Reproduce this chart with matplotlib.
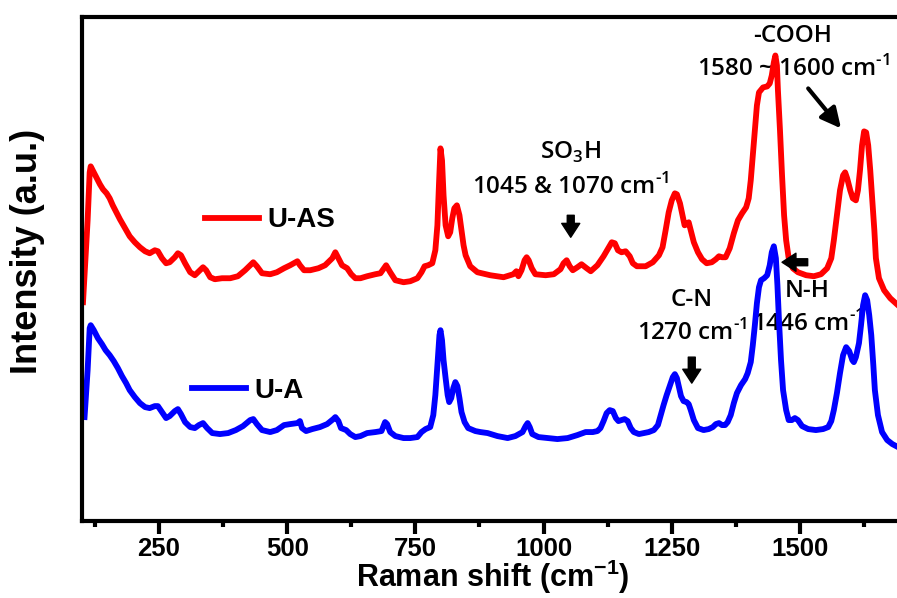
import numpy as np
import matplotlib.pyplot as plt
from matplotlib.lines import Line2D

plt.rcParams['font.family'] = ['Liberation Sans', 'DejaVu Sans']
plt.rcParams['mathtext.fontset'] = 'custom'
plt.rcParams['mathtext.rm'] = 'Open Sans:semibold'
plt.rcParams['mathtext.bf'] = 'Liberation Sans:bold'
plt.rcParams['mathtext.fallback'] = 'stixsans'

# Espectros Raman (desplazamiento en cm-1, intensidad en u.a.)
x_uas = [102, 111, 115, 117, 121, 129, 135, 141, 148, 154, 160, 168, 174, 184, 193,
         203, 213, 223, 232, 242, 248, 256, 264, 271, 281, 287, 293, 301, 311, 320,
         328, 336, 342, 350, 359, 373, 389, 404, 418, 428, 434, 441, 451, 467, 480,
         494, 506, 520, 525, 533, 545, 561, 574, 588, 594, 600, 607, 617, 625, 633,
         643, 656, 672, 682, 693, 701, 711, 727, 740, 754, 762, 768, 775, 783, 789,
         793, 796, 799, 802, 805, 809, 814, 818, 822, 826, 831, 836, 840, 844, 848,
         857, 871, 896, 922, 941, 947, 951, 957, 963, 967, 971, 977, 984, 1004, 1020,
         1033, 1039, 1045, 1051, 1057, 1066, 1074, 1084, 1092, 1105, 1117, 1125, 1133,
         1139, 1145, 1152, 1160, 1168, 1174, 1182, 1189, 1199, 1213, 1225, 1232, 1238,
         1244, 1250, 1256, 1260, 1266, 1271, 1275, 1279, 1283, 1287, 1293, 1301, 1309,
         1318, 1328, 1336, 1342, 1348, 1355, 1363, 1371, 1379, 1387, 1395, 1400, 1404,
         1408, 1412, 1416, 1420, 1428, 1436, 1441, 1445, 1449, 1452, 1455, 1457, 1461,
         1465, 1469, 1473, 1478, 1486, 1496, 1512, 1527, 1541, 1553, 1561, 1566, 1572,
         1578, 1584, 1588, 1592, 1598, 1603, 1609, 1613, 1617, 1621, 1625, 1629, 1633,
         1637, 1641, 1645, 1648, 1654, 1664, 1676, 1691]
y_uas = [218, 300, 348, 354, 350, 342, 336, 331, 327, 322, 315, 307, 301, 292, 284,
         278, 273, 269, 267, 270, 269, 262, 257, 258, 263, 267, 265, 257, 248, 245,
         249, 253, 250, 243, 241, 242, 242, 244, 250, 255, 258, 254, 247, 246, 248,
         252, 255, 259, 255, 250, 250, 252, 255, 262, 268, 262, 255, 252, 246, 242,
         242, 244, 246, 247, 255, 248, 240, 238, 239, 242, 248, 254, 255, 257, 270,
         295, 335, 372, 360, 325, 295, 284, 288, 302, 312, 315, 305, 290, 275, 265,
         254, 248, 245, 243, 246, 249, 244, 250, 260, 263, 260, 252, 246, 245, 246,
         251, 257, 260, 254, 250, 253, 256, 252, 249, 255, 264, 271, 278,
         277, 270, 268, 269, 264, 257, 254, 254, 254, 258, 265, 273, 290,
         308, 320, 327, 326, 317, 305, 295, 296, 298, 290, 278, 268, 261,
         257, 258, 261, 264, 263, 263, 272, 287, 300, 307, 313, 322, 340,
         365, 390, 415, 428, 433, 434, 437, 445, 458, 465, 455, 430, 390,
         345, 305, 280, 262, 252, 248, 245, 244, 246, 252, 262, 280, 305,
         330, 345, 348, 342, 330, 322, 320, 330, 350, 375, 389, 388, 375,
         350, 320, 290, 262, 242, 230, 222, 215]

x_ua = [105, 111, 115, 117, 123, 131, 139, 146, 154, 162, 170, 178, 186, 193, 203,
        213, 223, 232, 242, 248, 256, 264, 271, 281, 287, 293, 301, 311, 320, 328,
        336, 344, 354, 369, 385, 400, 414, 428, 434, 441, 451, 467, 480, 494, 506,
        520, 525, 529, 537, 549, 564, 578, 590, 594, 600, 605, 615, 623, 633, 643,
        656, 672, 684, 691, 695, 701, 711, 727, 740, 754, 762, 770, 779, 785, 789,
        793, 797, 799, 802, 805, 809, 813, 816, 820, 824, 828, 832, 836, 840, 846,
        853, 867, 877, 891, 910, 930, 945, 959, 965, 969, 973, 978, 990, 1008, 1027,
        1047, 1066, 1082, 1096, 1105, 1111, 1117, 1123, 1129, 1135, 1141, 1146, 1152,
        1158, 1164, 1170, 1176, 1186, 1195, 1205, 1215, 1223, 1228, 1234, 1240, 1246,
        1252, 1256, 1260, 1264, 1268, 1273, 1279, 1283, 1287, 1293, 1301, 1312, 1322,
        1330, 1336, 1342, 1348, 1354, 1359, 1365, 1371, 1377, 1385, 1393, 1398, 1404,
        1408, 1412, 1416, 1420, 1424, 1430, 1436, 1441, 1445, 1449, 1453, 1456, 1459,
        1463, 1467, 1473, 1478, 1484, 1490, 1496, 1504, 1516, 1531, 1545, 1555, 1561,
        1566, 1572, 1578, 1584, 1590, 1596, 1602, 1605, 1609, 1615, 1619, 1623, 1627,
        1631, 1635, 1639, 1643, 1646, 1652, 1660, 1670, 1680, 1691]
y_ua = [103, 150, 192, 195, 190, 182, 176, 170, 165, 159, 152, 144, 137, 130, 123,
        117, 113, 112, 114, 114, 108, 102, 104, 109, 111, 106, 98, 93, 92, 95,
        97, 92, 87, 86, 87, 90, 94, 100, 101, 96, 90, 88, 90, 95, 96,
        97, 99, 92, 89, 91, 93, 96, 101, 103, 99, 92, 90, 86, 83, 84,
        87, 88, 89, 98, 96, 88, 84, 82, 82, 83, 88, 91, 93, 105, 125,
        155, 185, 190, 180, 160, 142, 125, 118, 122, 132, 138, 134, 122, 108, 98,
        92, 89, 88, 87, 84, 82, 84, 88, 94, 97, 93, 86, 83, 82, 81,
        82, 85, 88, 88, 89, 92, 99, 107, 110, 109, 102, 99, 100,
        101, 99, 92, 88, 86, 87, 88, 90, 95, 104, 115, 125, 134,
        143, 146, 142, 133, 124, 119, 118, 116, 110, 100, 92, 90, 91,
        93, 96, 97, 95, 95, 98, 105, 117, 127, 135, 141, 147, 158,
        175, 195, 217, 233, 240, 242, 245, 255, 268, 274, 262, 235, 200,
        160, 130, 110, 100, 100, 102, 100, 94, 91, 90, 91, 93, 99,
        110, 127, 147, 165, 173, 169, 160, 158, 163, 177, 195, 215, 225,
        220, 205, 185, 155, 130, 105, 88, 80, 76, 73]

fig = plt.figure(figsize=(8.97, 5.98), dpi=100)
ax = fig.add_axes([0.0914, 0.1288, 0.9148, 0.8436])

ax.plot(x_uas, y_uas, color='#ff0000', lw=4.2, solid_joinstyle='round', zorder=2)
ax.plot(x_ua, y_ua, color='#0000ff', lw=4.2, solid_joinstyle='round', zorder=2)

ax.set_xlim(100, 1700)
ax.set_ylim(-1, 504)
ax.set_xticks([250, 500, 750, 1000, 1250, 1500])
ax.set_xticks([125, 375, 625, 875, 1125, 1375, 1625], minor=True)
ax.set_yticks([])
ax.tick_params(axis='x', which='major', direction='out', length=9, width=3, pad=2.5,
               labelsize=18.5)
ax.tick_params(axis='x', which='minor', direction='out', length=4.5, width=3)
for lab in ax.get_xticklabels():
    lab.set_fontweight('bold')
for s in ax.spines.values():
    s.set_linewidth(3)
ax.spines['right'].set_visible(False)

ax.set_xlabel(r'Raman shift (cm$^{\mathbf{-1}}$)', fontsize=22, fontweight='bold')
ax.xaxis.set_label_coords(0.549, 0.018, transform=fig.transFigure)
ax.xaxis.label.set_va('baseline')
ax.set_ylabel('Intensity (a.u.)', fontsize=26, fontweight='bold')
ax.yaxis.set_label_coords(0.031, 0.58, transform=fig.transFigure)
ax.yaxis.label.set_va('center')

# Leyendas separadas para cada espectro
h_uas = Line2D([], [], color='#ff0000', lw=4.2)
h_ua = Line2D([], [], color='#0000ff', lw=4.2)
leg_prop = {'family': 'Liberation Sans', 'weight': 'bold', 'size': 20}
leg1 = ax.legend([h_uas], ['U-AS'], loc='center left', bbox_to_anchor=(0.150, 0.596),
                 frameon=False, borderpad=0, borderaxespad=0, handlelength=1.95,
                 handletextpad=0.3, prop=leg_prop)
ax.add_artist(leg1)
ax.legend([h_ua], ['U-A'], loc='center left', bbox_to_anchor=(0.134, 0.258),
          frameon=False, borderpad=0, borderaxespad=0, handlelength=1.95,
          handletextpad=0.3, prop=leg_prop)

# Asignaciones de bandas
txt = dict(fontsize=17.5, family='Open Sans', weight='semibold', ha='center',
           va='center', zorder=1)
ax.text(1486, 484, '-COOH', **txt)
ax.text(1488, 451, r'1580 ~ 1600 cm$^{\text{-1}}$', **txt)
ax.text(1053, 368, r'SO$_3$H', **txt)
ax.text(1053, 333, r'1045 & 1070 cm$^{\text{-1}}$', **txt)
ax.text(1289, 220, 'C-N', **txt)
ax.text(1289, 187, r'1270 cm$^{\text{-1}}$', **txt)
ax.text(1514, 229, 'N-H', **txt)
ax.text(1514, 196, r'1446 cm$^{\text{-1}}$', **txt)

flecha = dict(arrowstyle='simple,head_width=0.65,head_length=0.5,tail_width=0.25',
              color='black', mutation_scale=20, shrinkA=0, shrinkB=0)
ax.annotate('', xy=(1053, 283), xytext=(1053, 305), arrowprops=flecha)
ax.annotate('', xy=(1289, 137), xytext=(1289, 163), arrowprops=flecha)
ax.annotate('', xy=(1465, 258), xytext=(1515, 258), arrowprops=flecha)
ax.annotate('', xy=(1580, 392), xytext=(1516, 432),
            arrowprops=dict(arrowstyle='-|>,head_width=0.3,head_length=0.6', lw=3,
                            color='black', mutation_scale=20, shrinkA=0, shrinkB=0))

fig.savefig('out.png', dpi=100)
